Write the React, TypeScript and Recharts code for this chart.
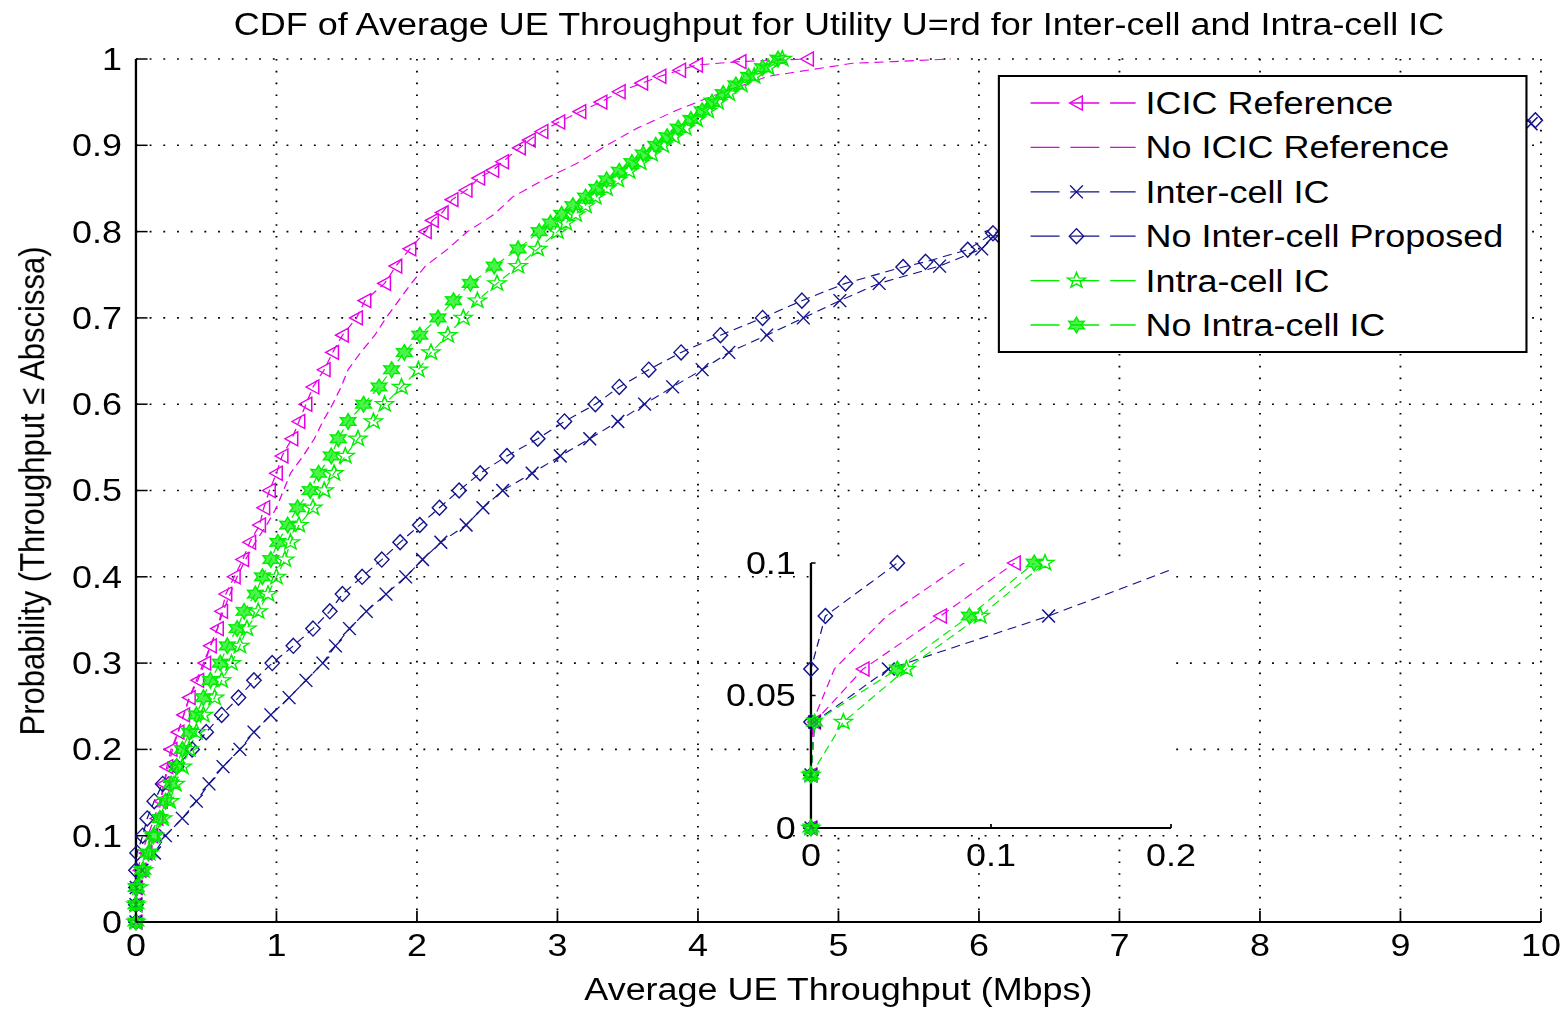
import React from 'react';
import { LineChart, Line, XAxis, YAxis, CartesianGrid, Legend } from 'recharts';

// the source figure is stretched sideways, so the chart is drawn narrow and scaled in x
const STRETCH = 1.16;
const W = 1352;
const H = 1009;
const FONT = '"Liberation Sans", Arial, Helvetica, sans-serif';

const MAGENTA = '#e600e6';
const NAVY = '#14148c';
const GREEN = '#00ee00';

const X_TICKS = [0, 1, 2, 3, 4, 5, 6, 7, 8, 9, 10];
const Y_TICKS = [0, 0.1, 0.2, 0.3, 0.4, 0.5, 0.6, 0.7, 0.8, 0.9, 1];
const INSET_X_TICKS = [0, 0.1, 0.2];
const INSET_Y_TICKS = [0, 0.05, 0.1];

// [throughput (Mbps), probability]
const ICIC_REF = [
  [0, 0], [0, 0.02], [0.002, 0.04], [0.029, 0.06], [0.072, 0.08], [0.113, 0.1], [0.15, 0.12], [0.18, 0.14],
  [0.2, 0.16], [0.22, 0.18], [0.25, 0.2], [0.3, 0.22], [0.34, 0.24], [0.38, 0.26], [0.44, 0.28], [0.49, 0.3],
  [0.53, 0.32], [0.58, 0.34], [0.61, 0.36], [0.64, 0.38], [0.7, 0.4], [0.76, 0.42], [0.81, 0.44], [0.88, 0.46],
  [0.91, 0.48], [0.95, 0.5], [1.0, 0.52], [1.04, 0.54], [1.11, 0.56], [1.16, 0.58], [1.21, 0.6], [1.26, 0.62],
  [1.34, 0.64], [1.4, 0.66], [1.47, 0.68], [1.57, 0.7], [1.63, 0.72], [1.77, 0.74], [1.85, 0.76], [1.95, 0.78],
  [2.06, 0.8], [2.11, 0.813], [2.18, 0.822], [2.25, 0.837], [2.35, 0.848], [2.44, 0.862], [2.54, 0.871],
  [2.61, 0.881], [2.73, 0.897], [2.8, 0.906], [2.89, 0.916], [3.01, 0.927], [3.16, 0.939], [3.31, 0.95],
  [3.44, 0.962], [3.6, 0.972], [3.73, 0.98], [3.87, 0.987], [3.99, 0.993], [4.3, 0.997], [4.78, 1.0],
];

const NO_ICIC_REF = [
  [0, 0], [0, 0.02], [0.001, 0.04], [0.013, 0.06], [0.042, 0.08], [0.085, 0.1], [0.13, 0.12], [0.17, 0.14],
  [0.2, 0.16], [0.23, 0.18], [0.26, 0.2], [0.3, 0.22], [0.34, 0.24], [0.38, 0.26], [0.43, 0.28], [0.48, 0.3],
  [0.53, 0.32], [0.58, 0.34], [0.62, 0.36], [0.67, 0.38], [0.72, 0.4], [0.78, 0.42], [0.85, 0.44], [0.93, 0.46],
  [1.0, 0.48], [1.05, 0.5], [1.1, 0.52], [1.19, 0.54], [1.27, 0.56], [1.33, 0.58], [1.4, 0.6], [1.46, 0.62],
  [1.51, 0.64], [1.6, 0.66], [1.7, 0.68], [1.78, 0.7], [1.87, 0.72], [1.96, 0.74], [2.06, 0.76], [2.22, 0.78],
  [2.36, 0.8], [2.55, 0.82], [2.68, 0.84], [2.9, 0.86], [3.15, 0.88], [3.35, 0.9], [3.57, 0.92], [3.84, 0.94],
  [4.15, 0.96], [4.5, 0.98], [4.86, 0.989], [5.1, 0.995], [5.39, 0.997], [5.8, 1.0],
];

const INTER_CELL = [
  [0, 0], [0, 0.02], [0.002, 0.04], [0.043, 0.06], [0.132, 0.08], [0.21, 0.1], [0.33, 0.12], [0.43, 0.14],
  [0.52, 0.16], [0.62, 0.18], [0.74, 0.2], [0.84, 0.22], [0.96, 0.24], [1.09, 0.26], [1.21, 0.28], [1.33, 0.3],
  [1.42, 0.32], [1.52, 0.34], [1.64, 0.36], [1.78, 0.38], [1.92, 0.4], [2.04, 0.42], [2.17, 0.44], [2.35, 0.46],
  [2.47, 0.48], [2.61, 0.5], [2.82, 0.52], [3.02, 0.54], [3.23, 0.56], [3.43, 0.58], [3.62, 0.6], [3.82, 0.62],
  [4.03, 0.64], [4.22, 0.66], [4.49, 0.68], [4.75, 0.7], [5.01, 0.72], [5.29, 0.74], [5.72, 0.76], [6.02, 0.78],
  [6.1, 0.794], [6.6, 0.82], [7.2, 0.85], [7.9, 0.88], [8.7, 0.9], [9.4, 0.915], [9.93, 0.925],
];

const NO_INTER_CELL = [
  [0, 0], [0, 0.02], [0, 0.04], [0, 0.06], [0.008, 0.08], [0.048, 0.1], [0.08, 0.12], [0.13, 0.14],
  [0.19, 0.16], [0.29, 0.18], [0.4, 0.2], [0.5, 0.22], [0.61, 0.24], [0.73, 0.26], [0.84, 0.28], [0.97, 0.3],
  [1.12, 0.32], [1.26, 0.34], [1.38, 0.36], [1.47, 0.38], [1.61, 0.4], [1.75, 0.42], [1.88, 0.44], [2.02, 0.46],
  [2.16, 0.48], [2.3, 0.5], [2.45, 0.52], [2.64, 0.54], [2.86, 0.56], [3.05, 0.58], [3.27, 0.6], [3.44, 0.62],
  [3.65, 0.64], [3.88, 0.66], [4.16, 0.68], [4.46, 0.7], [4.74, 0.72], [5.05, 0.74], [5.46, 0.759], [5.62, 0.765],
  [5.92, 0.779], [6.1, 0.798], [6.5, 0.82], [7.0, 0.84], [7.6, 0.86], [8.3, 0.88], [9.0, 0.9], [9.6, 0.92],
  [9.96, 0.929],
];

const INTRA_CELL = [
  [0, 0], [0, 0.02], [0.018, 0.04], [0.053, 0.06], [0.094, 0.08], [0.13, 0.1], [0.19, 0.12], [0.24, 0.14],
  [0.28, 0.16], [0.33, 0.18], [0.38, 0.2], [0.43, 0.22], [0.48, 0.24], [0.56, 0.26], [0.61, 0.28], [0.68, 0.3],
  [0.74, 0.32], [0.79, 0.34], [0.87, 0.36], [0.94, 0.38], [1.0, 0.4], [1.06, 0.42], [1.1, 0.44], [1.16, 0.46],
  [1.26, 0.48], [1.34, 0.5], [1.41, 0.52], [1.49, 0.54], [1.58, 0.56], [1.69, 0.58], [1.77, 0.6], [1.89, 0.62],
  [2.01, 0.64], [2.1, 0.66], [2.22, 0.68], [2.33, 0.7], [2.43, 0.72], [2.57, 0.74], [2.72, 0.76], [2.86, 0.78],
  [3.0, 0.8], [3.06, 0.81], [3.13, 0.82], [3.2, 0.83], [3.27, 0.84], [3.35, 0.85], [3.43, 0.86], [3.51, 0.87],
  [3.59, 0.88], [3.67, 0.89], [3.75, 0.9], [3.83, 0.91], [3.91, 0.92], [3.99, 0.93], [4.07, 0.94], [4.14, 0.95],
  [4.22, 0.96], [4.31, 0.97], [4.4, 0.98], [4.5, 0.99], [4.6, 1.0],
];

const NO_INTRA_CELL = [
  [0, 0], [0, 0.02], [0.002, 0.04], [0.048, 0.06], [0.088, 0.08], [0.124, 0.1], [0.17, 0.12], [0.21, 0.14],
  [0.25, 0.16], [0.29, 0.18], [0.33, 0.2], [0.38, 0.22], [0.43, 0.24], [0.48, 0.26], [0.53, 0.28], [0.6, 0.3],
  [0.65, 0.32], [0.72, 0.34], [0.77, 0.36], [0.85, 0.38], [0.9, 0.4], [0.96, 0.42], [1.01, 0.44], [1.08, 0.46],
  [1.15, 0.48], [1.24, 0.5], [1.3, 0.52], [1.39, 0.54], [1.44, 0.56], [1.51, 0.58], [1.62, 0.6], [1.73, 0.62],
  [1.82, 0.64], [1.91, 0.66], [2.02, 0.68], [2.15, 0.7], [2.26, 0.72], [2.38, 0.74], [2.55, 0.76], [2.72, 0.78],
  [2.87, 0.8], [2.95, 0.81], [3.03, 0.82], [3.11, 0.83], [3.2, 0.84], [3.28, 0.85], [3.35, 0.86], [3.44, 0.87],
  [3.53, 0.88], [3.61, 0.89], [3.7, 0.9], [3.78, 0.91], [3.86, 0.92], [3.95, 0.93], [4.03, 0.94], [4.1, 0.95],
  [4.18, 0.96], [4.27, 0.97], [4.36, 0.98], [4.46, 0.99], [4.57, 1.0],
];

const SERIES = [
  { name: 'ICIC Reference', rows: ICIC_REF, color: MAGENTA, marker: 'tri' },
  { name: 'No ICIC Reference', rows: NO_ICIC_REF, color: MAGENTA, marker: null },
  { name: 'Inter-cell IC', rows: INTER_CELL, color: NAVY, marker: 'x' },
  { name: 'No Inter-cell Proposed', rows: NO_INTER_CELL, color: NAVY, marker: 'diamond' },
  { name: 'Intra-cell IC', rows: INTRA_CELL, color: GREEN, marker: 'pent' },
  { name: 'No Intra-cell IC', rows: NO_INTRA_CELL, color: GREEN, marker: 'hex' },
];

const pts = (rows: number[][]) => rows.map(([x, p]) => ({ x, p }));

const starPoints = (cx: number, cy: number, n: number, R: number, r: number) =>
  Array.from({ length: n * 2 }, (_, i) => {
    const a = -Math.PI / 2 + (i * Math.PI) / n;
    const rr = i % 2 === 0 ? R : r;
    return `${cx + rr * Math.cos(a)},${cy + rr * Math.sin(a)}`;
  }).join(' ');

function Marker({ kind, cx, cy, color }: { kind: string; cx: number; cy: number; color: string }) {
  if (cx == null || cy == null || isNaN(cx) || isNaN(cy)) return null;
  const sw = 1.3;
  if (kind === 'tri') {
    return <polygon points={`${cx - 6},${cy} ${cx + 5},${cy - 7} ${cx + 5},${cy + 7}`} fill="none" stroke={color} strokeWidth={sw} />;
  }
  if (kind === 'x') {
    return <path d={`M${cx - 5.5},${cy - 6.5}L${cx + 5.5},${cy + 6.5}M${cx - 5.5},${cy + 6.5}L${cx + 5.5},${cy - 6.5}`} stroke={color} strokeWidth={sw} />;
  }
  if (kind === 'diamond') {
    return <polygon points={`${cx},${cy - 7.5} ${cx + 6.2},${cy} ${cx},${cy + 7.5} ${cx - 6.2},${cy}`} fill="none" stroke={color} strokeWidth={sw} />;
  }
  if (kind === 'pent') {
    return <polygon points={starPoints(cx, cy, 5, 8.2, 3.3)} fill="none" stroke={color} strokeWidth={sw} />;
  }
  if (kind === 'hex') {
    return <polygon points={starPoints(cx, cy, 6, 7.8, 4.2)} fill={color} fillOpacity={0.7} stroke={color} strokeWidth={sw} />;
  }
  return null;
}

const dotFor = (kind: string, color: string) => (props: any) => (
  <Marker key={`m-${props.index}`} kind={kind} cx={props.cx} cy={props.cy} color={color} />
);

const txt = { fontSize: 31, fontFamily: FONT, fill: '#000' };

const MainXTick = ({ x, y, payload }: any) => (
  <g>
    <line x1={x} x2={x} y1={y} y2={y - 11} stroke="#000" strokeWidth={1.5} />
    <text x={x} y={y + 34} textAnchor="middle" {...txt}>{payload.value}</text>
  </g>
);

const MainYTick = ({ x, y, payload }: any) => (
  <g>
    <line x1={x} x2={x + 10} y1={y} y2={y} stroke="#000" strokeWidth={1.5} />
    <text x={x - 12} y={y + 11} textAnchor="end" {...txt}>{payload.value}</text>
  </g>
);

const InsetXTick = ({ x, y, payload }: any) => (
  <g>
    <line x1={x} x2={x} y1={y} y2={y - 4} stroke="#000" strokeWidth={1.5} />
    <text x={x} y={y + 38} textAnchor="middle" {...txt}>{payload.value}</text>
  </g>
);

const InsetYTick = ({ x, y, payload }: any) => (
  <g>
    <line x1={x} x2={x + 4} y1={y} y2={y} stroke="#000" strokeWidth={1.5} />
    <text x={x - 13} y={y + 11} textAnchor="end" {...txt}>{payload.value}</text>
  </g>
);

// legend keeps the plotting order (Recharts would sort it by name)
const LegendBox = () => (
  <svg width={457} height={278} style={{ display: 'block' }}>
    <rect x={1} y={1} width={455} height={276} fill="#fff" stroke="#000" strokeWidth={2} />
    {SERIES.map((s, i) => {
      const cy = 28 + i * 44.4;
      return (
        <g key={s.name}>
          <line x1={28.4} x2={119} y1={cy} y2={cy} stroke={s.color} strokeWidth={1.3} strokeDasharray="25 9.3" />
          {s.marker && <Marker kind={s.marker} cx={68} cy={cy} color={s.color} />}
          <text x={127.6} y={cy + 11} {...txt}>{s.name}</text>
        </g>
      );
    })}
  </svg>
);

const axisLine = { stroke: '#000', strokeWidth: 2 };
const INSET_BOX = { left: 620, top: 540, width: 410, height: 340 };

export default function App() {
  return (
    <div style={{ position: 'absolute', left: 0, top: 0, width: 1568, height: 1009, overflow: 'hidden', background: '#fff' }}>
      <div style={{ position: 'relative', width: W, height: H, transform: `scaleX(${STRETCH})`, transformOrigin: '0 0' }}>
        <LineChart width={W} height={H} margin={{ top: 59, right: 23.6, bottom: 0, left: 0 }}>
          <CartesianGrid stroke="#000" strokeWidth={1.6} strokeDasharray="1.6 10.2" />
          <XAxis type="number" dataKey="x" domain={[0, 10]} ticks={X_TICKS} interval={0} height={87}
            tickSize={0} tickMargin={0} tickLine={false} axisLine={axisLine} tick={(p: any) => <MainXTick {...p} />} />
          <YAxis type="number" domain={[0, 1]} ticks={Y_TICKS} interval={0} width={117.2}
            tickSize={0} tickMargin={0} tickLine={false} axisLine={axisLine} tick={(p: any) => <MainYTick {...p} />} />
          <Legend layout="vertical" align="center" verticalAlign="middle" content={LegendBox}
            wrapperStyle={{ position: 'absolute', left: 860.3, top: 75, width: 457, height: 278 }} />
          {SERIES.map((s) => (
            <Line key={s.name} name={s.name} data={pts(s.rows)} dataKey="p" type="linear" stroke={s.color}
              strokeWidth={1.1} strokeDasharray="8 5" dot={s.marker ? dotFor(s.marker, s.color) : false}
              activeDot={false} isAnimationActive={false} />
          ))}
        </LineChart>

        {/* inset zoom of the origin: lines (clipped) */}
        <div style={{ position: 'absolute', ...INSET_BOX }}>
          <LineChart width={INSET_BOX.width} height={INSET_BOX.height} margin={{ top: 23, right: 20.5, bottom: 0, left: 0 }}>
            <CartesianGrid fill="#fff" horizontal={false} vertical={false} />
            <XAxis type="number" dataKey="x" domain={[0, 0.2]} allowDataOverflow ticks={INSET_X_TICKS} interval={0} height={52}
              tickSize={0} tickMargin={0} tickLine={false} axisLine={axisLine} tick={(p: any) => <InsetXTick {...p} />} />
            <YAxis type="number" domain={[0, 0.1]} allowDataOverflow ticks={INSET_Y_TICKS} interval={0} width={79.1}
              tickSize={0} tickMargin={0} tickLine={false} axisLine={axisLine} tick={(p: any) => <InsetYTick {...p} />} />
            {SERIES.map((s) => (
              <Line key={s.name} data={pts(s.rows)} dataKey="p" type="linear" stroke={s.color} strokeWidth={1.1}
                strokeDasharray="8 5" dot={false} activeDot={false} isAnimationActive={false} />
            ))}
          </LineChart>
        </div>

        {/* inset markers, kept unclipped so the ones on the top edge show whole */}
        <div style={{ position: 'absolute', ...INSET_BOX }}>
          <LineChart width={INSET_BOX.width} height={INSET_BOX.height} margin={{ top: 23, right: 20.5, bottom: 52, left: 79.1 }}>
            <XAxis type="number" dataKey="x" domain={[0, 0.2]} hide />
            <YAxis type="number" domain={[0, 0.1]} hide />
            {SERIES.filter((s) => s.marker).map((s) => (
              <Line key={s.name} data={pts(s.rows.filter(([x, p]) => x <= 0.2 && p <= 0.1))} dataKey="p" type="linear"
                stroke="none" dot={dotFor(s.marker as string, s.color)} activeDot={false} isAnimationActive={false} />
            ))}
          </LineChart>
        </div>

        <svg width={W} height={H} style={{ position: 'absolute', left: 0, top: 0, pointerEvents: 'none' }}>
          <text x={723.3} y={35} textAnchor="middle" {...txt}>
            CDF of Average UE Throughput for Utility U=rd for Inter-cell and Intra-cell IC
          </text>
          <text x={722.8} y={1000} textAnchor="middle" {...txt}>Average UE Throughput (Mbps)</text>
          <text transform="translate(37.9,491) rotate(-90)" textAnchor="middle" {...txt}>
            Probability (Throughput ≤ Abscissa)
          </text>
        </svg>
      </div>
    </div>
  );
}
